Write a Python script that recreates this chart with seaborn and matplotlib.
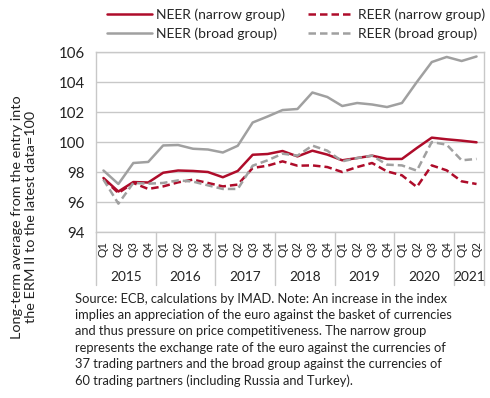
import numpy as np
import pandas as pd
import seaborn as sns
import matplotlib
matplotlib.use("Agg")
import matplotlib.pyplot as plt
from matplotlib.lines import Line2D

quarters = ["Q1", "Q2", "Q3", "Q4"] * 6 + ["Q1", "Q2"]
years = ["2015", "2016", "2017", "2018", "2019", "2020", "2021"]

neer_narrow = [97.6, 96.7, 97.33, 97.3, 97.95, 98.1, 98.07, 98.0, 97.65, 98.07,
               99.15, 99.2, 99.4, 99.04, 99.42, 99.16, 98.78, 98.93, 99.09, 98.87,
               98.87, 99.6, 100.29, 100.18, 100.09, 99.98]
reer_narrow = [97.53, 96.6, 97.27, 96.87, 97.04, 97.31, 97.49, 97.27, 97.04, 97.16,
               98.27, 98.42, 98.71, 98.42, 98.44, 98.33, 98.0, 98.33, 98.6, 98.04,
               97.78, 97.0, 98.44, 98.11, 97.38, 97.2]
neer_broad = [98.1, 97.2, 98.6, 98.67, 99.77, 99.8, 99.55, 99.5, 99.3, 99.75,
              101.3, 101.7, 102.13, 102.2, 103.3, 103.0, 102.4, 102.6, 102.5, 102.33,
              102.6, 104.0, 105.33, 105.67, 105.4, 105.7]
reer_broad = [97.49, 95.89, 97.27, 97.22, 97.27, 97.44, 97.36, 97.11, 96.87, 96.87,
              98.42, 98.78, 99.22, 99.09, 99.76, 99.42, 98.71, 98.93, 99.09, 98.49,
              98.44, 98.09, 100.0, 99.82, 98.78, 98.87]

series_names = ["NEER (narrow group)", "NEER (broad group)",
                "REER (narrow group)", "REER (broad group)"]
series_vals = [neer_narrow, neer_broad, reer_narrow, reer_broad]

idx = np.arange(len(quarters))
df = pd.concat([pd.DataFrame({"t": idx, "value": v, "series": n})
                for n, v in zip(series_names, series_vals)], ignore_index=True)

sns.set_theme(style="white")
plt.rcParams["font.family"] = ["Lato", "DejaVu Sans"]

RED = "#AE0C2A"
GRAY = "#A0A0A0"
palette = {series_names[0]: RED, series_names[1]: GRAY,
           series_names[2]: RED, series_names[3]: GRAY}
dashes = {series_names[0]: "", series_names[1]: "",
          series_names[2]: (3, 1.6), series_names[3]: (3, 1.6)}

fig = plt.figure(figsize=(4.9, 3.98), dpi=100)
ax = fig.add_axes([96 / 490, 1 - 232 / 398, 388 / 490, 180 / 398])

sns.lineplot(data=df, x="t", y="value", hue="series", style="series",
             palette=palette, dashes=dashes, hue_order=series_names,
             style_order=series_names, linewidth=1.8, ax=ax, legend=False)

ax.set_xlim(-0.5, len(quarters) - 0.5)
ax.set_ylim(94, 106)
ax.set_yticks(np.arange(94, 107, 2))
ax.tick_params(axis="y", labelsize=10.8, length=0, pad=8, colors="#222222")
ax.set_xticks([])
ax.set_xlabel("")
ax.set_ylabel("")
ax.grid(axis="y", color="#C8C8C8", linewidth=1)
ax.set_axisbelow(True)
for s in ax.spines.values():
    s.set_color("#C8C8C8")
    s.set_linewidth(1)

trans = ax.get_xaxis_transform()
for i, q in enumerate(quarters):
    ax.text(i, -0.095, q, rotation=90, ha="center", va="center",
            fontsize=8.4, color="#222222", transform=trans)

bounds = [-0.5, 3.5, 7.5, 11.5, 15.5, 19.5, 23.5, 25.5]
for b in bounds:
    ax.plot([b, b], [0, -0.295], color="#C8C8C8", linewidth=1,
            transform=trans, clip_on=False)
for k, y in enumerate(years):
    c = (bounds[k] + bounds[k + 1]) / 2
    ax.text(c, -0.248, y, ha="center", va="center", fontsize=9.8,
            color="#222222", transform=trans)

fig.text(24 / 490, 181 / 398,
         "Long-term average from the entry into\nthe ERM II to the latest data=100",
         rotation=90, ha="center", va="center", fontsize=10.4,
         linespacing=1.2, color="#222222")

handles = [Line2D([], [], color=RED, lw=1.8),
           Line2D([], [], color=GRAY, lw=1.8),
           Line2D([], [], color=RED, lw=1.8, dashes=(3, 1.6)),
           Line2D([], [], color=GRAY, lw=1.8, dashes=(3, 1.6))]
fig.legend(handles, series_names, ncol=2, loc="upper left",
           bbox_to_anchor=(94 / 490, 1.01), frameon=False, fontsize=10,
           handlelength=3.3, handletextpad=0.3, columnspacing=1.6,
           labelspacing=0.45)

note = ("Source: ECB, calculations by IMAD. Note: An increase in the index\n"
        "implies an appreciation of the euro against the basket of currencies\n"
        "and thus pressure on price competitiveness. The narrow group\n"
        "represents the exchange rate of the euro against the currencies of\n"
        "37 trading partners and the broad group against the currencies of\n"
        "60 trading partners (including Russia and Turkey).")
fig.text(75 / 490, 1 - 293 / 398, note, ha="left", va="top", fontsize=9.25,
         linespacing=1.42, color="#222222")

fig.savefig("out.png", dpi=100)
